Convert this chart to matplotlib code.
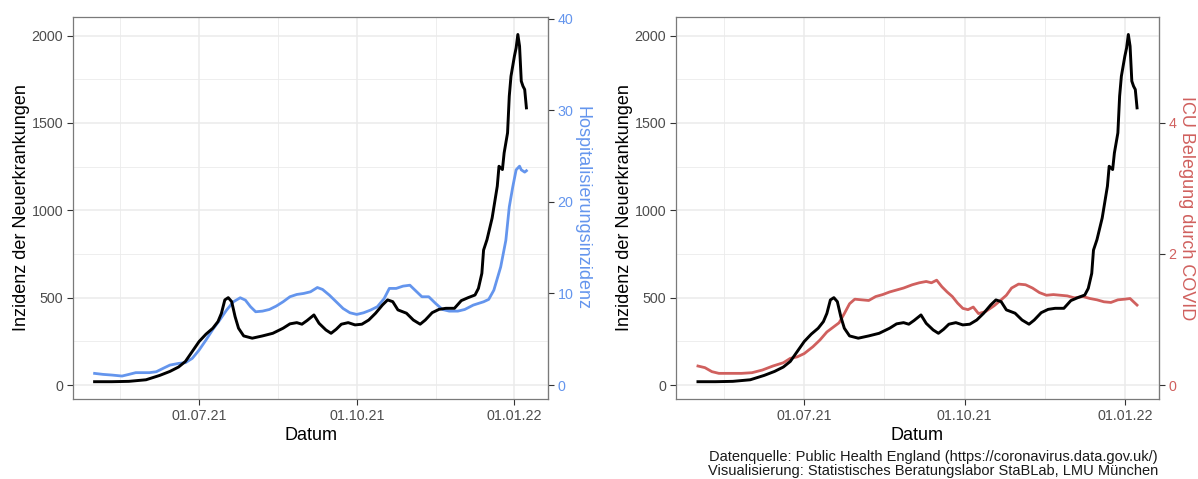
import numpy as np
import pandas as pd
import matplotlib.pyplot as plt
import matplotlib.dates as mdates

plt.rcParams['font.family'] = ['Liberation Sans', 'DejaVu Sans']

START = pd.Timestamp('2021-05-01')

# 7-Tage-Inzidenz (Tage seit 01.05.21)
tage_inz = [0, 10, 20, 30, 38, 44, 49, 53, 57, 61, 65, 69, 72, 74, 76, 78, 80, 82, 84, 87,
            92, 98, 104, 110, 114, 118, 121, 124, 128, 131, 135, 138, 141, 144, 148, 152,
            156, 160, 164, 168, 171, 174, 177, 182, 186, 190, 193, 197, 201, 205, 210, 214,
            218, 222, 224, 226, 227, 229, 232, 235, 236, 238, 239, 241, 242, 243, 245, 246,
            247, 248, 249, 250, 251, 252]
inzidenz = [19, 19, 21, 30, 55, 78, 103, 135, 192, 249, 291, 325, 363, 410, 487, 500, 477,
            391, 325, 281, 268, 281, 296, 325, 350, 357, 348, 369, 401, 353, 315, 296, 319,
            348, 357, 344, 348, 372, 411, 458, 487, 477, 430, 411, 372, 348, 372, 414, 433,
            439, 439, 483, 500, 515, 553, 639, 772, 832, 956, 1138, 1252, 1233, 1328, 1443,
            1653, 1767, 1882, 1929, 2006, 1939, 1739, 1710, 1691, 1586]

# Hospitalisierungsinzidenz
tage_hosp = [0, 5, 10, 16, 20, 24, 32, 36, 40, 44, 49, 53, 57, 61, 65, 69, 73, 77, 81, 85,
             88, 91, 94, 98, 102, 106, 110, 114, 118, 122, 126, 130, 133, 137, 141, 145, 149,
             153, 157, 161, 165, 169, 172, 176, 180, 184, 187, 191, 195, 199, 203, 207, 212,
             216, 221, 227, 230, 233, 237, 240, 242, 244, 246, 248, 249, 251, 252]
hosp = [1.27, 1.16, 1.09, 0.98, 1.16, 1.35, 1.35, 1.45, 1.82, 2.18, 2.36, 2.44, 2.91, 3.82,
        4.91, 6.07, 7.09, 8.18, 9.09, 9.53, 9.27, 8.55, 8.0, 8.07, 8.25, 8.62, 9.09, 9.64,
        9.89, 10.0, 10.18, 10.65, 10.44, 9.82, 9.09, 8.36, 7.89, 7.71, 7.89, 8.18, 8.55,
        9.45, 10.55, 10.55, 10.8, 10.9, 10.36, 9.64, 9.64, 8.91, 8.25, 8.07, 8.07, 8.25,
        8.73, 9.09, 9.35, 10.36, 12.9, 15.8, 19.45, 21.6, 23.5, 23.9, 23.5, 23.25, 23.4]

# ICU Belegung
tage_icu = [0, 4, 8, 12, 19, 25, 31, 37, 43, 49, 53, 57, 61, 66, 70, 74, 78, 81, 84, 87, 90,
            94, 98, 102, 106, 110, 114, 118, 123, 127, 131, 134, 137, 140, 143, 146, 149, 152,
            155, 158, 161, 165, 170, 174, 177, 180, 184, 188, 192, 196, 200, 204, 208, 212,
            216, 221, 225, 229, 233, 237, 241, 245, 248, 250, 252]
icu = [0.29, 0.265, 0.204, 0.178, 0.178, 0.178, 0.188, 0.229, 0.29, 0.34, 0.407, 0.43, 0.48,
       0.585, 0.687, 0.81, 0.89, 0.95, 1.09, 1.24, 1.31, 1.30, 1.29, 1.35, 1.38, 1.42, 1.45,
       1.48, 1.53, 1.56, 1.58, 1.56, 1.60, 1.50, 1.42, 1.35, 1.25, 1.17, 1.15, 1.19, 1.09,
       1.12, 1.21, 1.30, 1.37, 1.48, 1.54, 1.53, 1.48, 1.41, 1.37, 1.38, 1.37, 1.36, 1.33,
       1.35, 1.32, 1.30, 1.27, 1.26, 1.30, 1.31, 1.32, 1.27, 1.22]

FAKTOR_HOSP = 52.4
FAKTOR_ICU = 375.0

BLAU = '#6495ED'
ROT = '#D0605E'
GRAU_TEXT = '#4D4D4D'
GRID = '#EBEBEB'


def datum(tage):
    return START + pd.to_timedelta(np.array(tage), unit='D')


def panel(ax):
    # ggplot theme_bw nachbauen
    for s in ax.spines.values():
        s.set_color('#7a7a7a')
        s.set_linewidth(0.9)
    ax.set_xticks(pd.to_datetime(['2021-07-01', '2021-10-01', '2022-01-01']))
    ax.set_xticks(pd.to_datetime(['2021-05-16', '2021-08-16', '2021-11-16']), minor=True)
    ax.xaxis.set_major_formatter(mdates.DateFormatter('%d.%m.%y'))
    ax.set_yticks([0, 500, 1000, 1500, 2000])
    ax.set_yticks([250, 750, 1250, 1750], minor=True)
    ax.grid(which='major', color=GRID, lw=1.1)
    ax.grid(which='minor', color=GRID, lw=0.6)
    ax.set_axisbelow(True)
    ax.tick_params(which='major', length=4, color='#333333', labelcolor=GRAU_TEXT,
                   labelsize=10.3, pad=3)
    ax.tick_params(which='minor', length=0)
    d0 = START
    d1 = START + pd.Timedelta(days=252)
    pad = (d1 - d0) * 0.05
    ax.set_xlim(d0 - pad, d1 + pad)
    ax.set_ylim(-80, 2106)
    ax.set_xlabel('Datum', fontsize=13, labelpad=3)
    ax.set_ylabel('Inzidenz der Neuerkrankungen', fontsize=13, labelpad=1)


fig = plt.figure(figsize=(11.98, 4.79), dpi=100)
ax1 = fig.add_axes([73 / 1198, 80 / 479, 475 / 1198, 382 / 479])
ax2 = fig.add_axes([676 / 1198, 80 / 479, 483 / 1198, 382 / 479])

# links: Inzidenz + Hospitalisierung
panel(ax1)
ax1.plot(datum(tage_hosp), np.array(hosp) * FAKTOR_HOSP, color=BLAU, lw=2.0)
ax1.plot(datum(tage_inz), inzidenz, color='black', lw=2.1)
sec1 = ax1.secondary_yaxis('right', functions=(lambda y: y / FAKTOR_HOSP,
                                               lambda y: y * FAKTOR_HOSP))
sec1.set_yticks([0, 10, 20, 30, 40])
sec1.tick_params(length=4, color='#333333', labelcolor=BLAU, labelsize=10.3, pad=3)
sec1.spines['right'].set_color('#7a7a7a')
sec1.set_ylabel('Hospitalisierungsinzidenz', color=BLAU, fontsize=13, rotation=-90,
                va='bottom', labelpad=0)

# rechts: Inzidenz + ICU
panel(ax2)
ax2.plot(datum(tage_icu), np.array(icu) * FAKTOR_ICU, color=ROT, lw=2.0)
ax2.plot(datum(tage_inz), inzidenz, color='black', lw=2.1)
sec2 = ax2.secondary_yaxis('right', functions=(lambda y: y / FAKTOR_ICU,
                                               lambda y: y * FAKTOR_ICU))
sec2.set_yticks([0, 2, 4])
sec2.tick_params(length=4, color='#333333', labelcolor=ROT, labelsize=10.3, pad=3)
sec2.spines['right'].set_color('#7a7a7a')
sec2.set_ylabel('ICU Belegung durch COVID', color=ROT, fontsize=13, rotation=-90,
                va='bottom', labelpad=1)

fig.text(1158 / 1198, 1 - 457 / 479,
         'Datenquelle: Public Health England (https://coronavirus.data.gov.uk/)',
         ha='right', va='center', fontsize=10.5, color='#1a1a1a')
fig.text(1158 / 1198, 1 - 471 / 479,
         'Visualisierung: Statistisches Beratungslabor StaBLab, LMU München',
         ha='right', va='center', fontsize=10.5, color='#1a1a1a')

fig.savefig('out.png', dpi=100)
